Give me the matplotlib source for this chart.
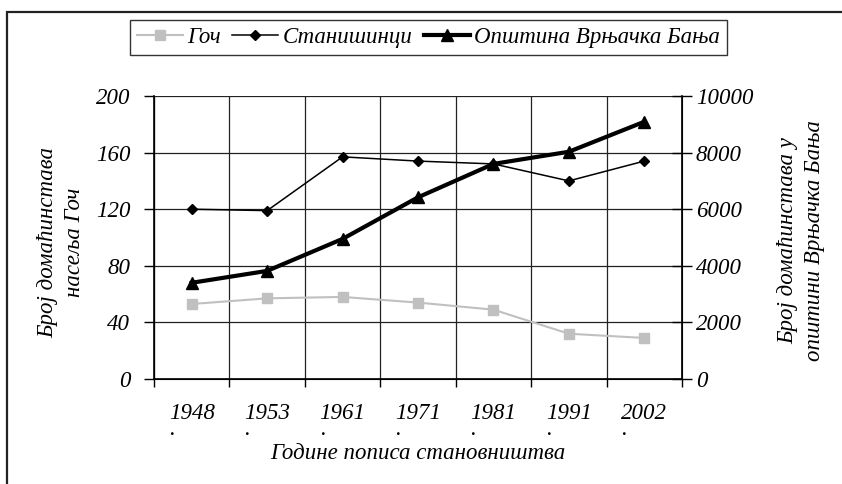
import numpy as np
import matplotlib
matplotlib.use('Agg')
import matplotlib.pyplot as plt
from matplotlib.patches import Rectangle

plt.rcParams['font.family'] = ['Liberation Serif', 'DejaVu Serif']
plt.rcParams['font.style'] = 'italic'
plt.rcParams['font.size'] = 16.5

# Data
years = ['1948', '1953', '1961', '1971', '1981', '1991', '2002']
goc = [53, 57, 58, 54, 49, 32, 29]                       # left axis
stanisinci = [120, 119, 157, 154, 152, 140, 154]          # left axis
opstina = [3400, 3820, 4950, 6420, 7600, 8030, 9090]      # right axis

W, H = 842, 484
fig = plt.figure(figsize=(W / 100, H / 100), dpi=100)
ax = fig.add_axes([154 / W, 1 - 379 / H, 528 / W, 283 / H])
ax2 = ax.twinx()

x = np.arange(len(years))

# outer frame (cut off at right and bottom like the original)
fig.patches.append(Rectangle((7 / W, -0.2), 1.2, 0.2 + 1 - 12 / H,
                             transform=fig.transFigure, fill=False,
                             edgecolor='#222222', linewidth=1.6))

l1, = ax.plot(x, goc, color='#c0c0c0', linewidth=1.5, marker='s',
              markersize=7.5, label='Гоч', zorder=4)
l2, = ax.plot(x, stanisinci, color='black', linewidth=1.1, marker='D',
              markersize=5, label='Станишинци', zorder=4)
l3, = ax2.plot(x, opstina, color='black', linewidth=3, marker='^',
               markersize=9, label='Општина Врњачка Бања', zorder=4)

ax.set_xlim(-0.5, len(years) - 0.5)
ax.set_ylim(0, 200)
ax2.set_ylim(0, 10000)
ax.set_yticks(np.arange(0, 201, 40))
ax2.set_yticks(np.arange(0, 10001, 2000))

# category borders: ticks and vertical grid
ax.set_xticks(np.arange(-0.5, len(years), 1.0))
ax.set_xticklabels([])
ax.set_xticks(x, minor=True)
ax.set_xticklabels([y + '\n.' for y in years], minor=True,
                   multialignment='left', linespacing=0.7)
ax.tick_params(axis='x', which='minor', length=0, pad=17)
ax.tick_params(axis='x', which='major', direction='out', length=6, width=1)
ax.tick_params(axis='y', direction='out', length=7, width=1, pad=10)
ax2.tick_params(axis='y', direction='inout', length=14, width=1, pad=3)

ax.grid(True, which='major', color='#222222', linewidth=0.9)
ax.set_axisbelow(True)
for s in ['top']:
    ax.spines[s].set_visible(False)
    ax2.spines[s].set_visible(False)
for s in ['left', 'right', 'bottom']:
    ax2.spines[s].set_linewidth(1.2)

ax.set_ylabel('Број домаћинстава\nнасеља Гоч', linespacing=1.35)
ax.yaxis.set_label_coords(-0.13, 0.484)
ax2.set_ylabel('Број домаћинстава у\nопштини Врњачка Бања', linespacing=1.35,
               rotation=90)
ax2.yaxis.set_label_coords(1.18, 0.49)
ax.set_xlabel('Године пописа становништва')
ax.xaxis.set_label_coords(0.5, -0.226)

leg = fig.legend(handles=[l1, l2, l3], loc='center', ncol=3,
                 bbox_to_anchor=(428.5 / W, 1 - 37.5 / H), frameon=True,
                 fancybox=False, edgecolor='black', handlelength=2.0,
                 handletextpad=0.2, columnspacing=0.5, borderpad=0.3)
leg.get_frame().set_linewidth(1.0)

fig.savefig('out.png', dpi=100)
